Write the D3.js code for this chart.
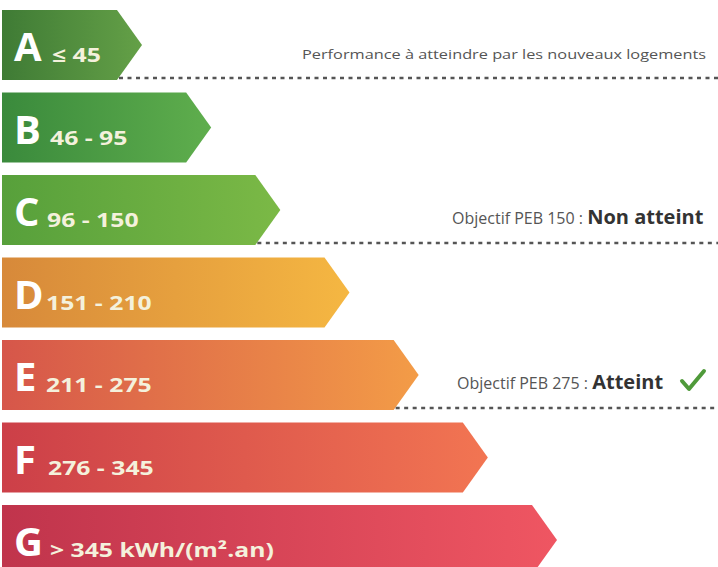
<!DOCTYPE html>
<html><head><meta charset="utf-8">
<script src="https://cdn.jsdelivr.net/npm/d3@7"></script>
<style>body{margin:0;background:#fff}svg{display:block}</style>
</head><body>
<script>
const classes = ["A","B","C","D","E","F","G"];
const ranges = ["≤ 45","46 - 95","96 - 150","151 - 210","211 - 275","276 - 345","> 345  kWh/(m².an)"];
const upperBounds = [45,95,150,210,275,345,null];
const colorsLeft  = ["#3f7b35","#3a8a3c","#57a03b","#d7893a","#d6564a","#cc3f48","#c0344c"];
const colorsRight = ["#64a047","#5fae4d","#7bb946","#f5b742","#f39c47","#f27552","#ef5662"];
const annotClass = ["A","C","E"];
const annotNormal = ["Performance à atteindre par les nouveaux logements","Objectif PEB 150 : ","Objectif PEB 275 : "];
const annotBold = ["","Non atteint","Atteint"];
const annotCheck = [false,false,true];

const W=718,H=567;
const svg=d3.select("body").append("svg").attr("width",W).attr("height",H);
const defs=svg.append("defs");
const y=d3.scaleBand().domain(classes).range([10,575]).paddingInner(12.5/82.5);
const xTip=d3.scaleLinear().domain([0,6]).range([142,557]);
const notch=25, left=2;
classes.forEach((c,i)=>{
  const g=defs.append("linearGradient").attr("id","g"+c).attr("x1","0").attr("x2","1").attr("y1","0").attr("y2","0");
  g.append("stop").attr("offset","0%").attr("stop-color",colorsLeft[i]);
  g.append("stop").attr("offset","100%").attr("stop-color",colorsRight[i]);
});
const bars=svg.selectAll("g.bar").data(classes).join("g").attr("class","bar");
bars.append("path").attr("d",(c,i)=>{
  const t=y(c),b=t+y.bandwidth(),m=t+y.bandwidth()/2,tip=xTip(i);
  return `M${left},${t}L${tip-notch},${t}L${tip},${m}L${tip-notch},${b}L${left},${b}Z`;
}).attr("fill",c=>`url(#g${c})`);
bars.append("text").attr("x",14).attr("y",c=>y(c)+51)
  .attr("font-family","'Open Sans',sans-serif").attr("font-weight","bold").attr("font-size",40)
  .attr("fill","#fff").text(c=>c);
const rx=[52,50,47,46,46,48,50];
bars.append("text").attr("transform",(c,i)=>`translate(${rx[i]},${y(c)+52}) scale(1.27,1)`)
  .attr("font-family","'Open Sans',sans-serif").attr("font-weight","bold").attr("font-size",19.5)
  .attr("fill","#f4f1dc").text((c,i)=>ranges[i]);

annotClass.forEach((c,k)=>{
  const i=classes.indexOf(c);
  const ly=y(c)+y.bandwidth()-2;
  svg.append("line").attr("x1",xTip(i)-notch+2).attr("x2",W).attr("y1",ly).attr("y2",ly)
    .attr("stroke","#555").attr("stroke-width",2.5).attr("stroke-dasharray","4,4.5");
  const t=svg.append("text").attr("y",ly-19).attr("font-family","'Open Sans',sans-serif").attr("fill","#555");
  if(k===0){
    t.attr("x",302).attr("font-size",13.5).attr("textLength",404).attr("lengthAdjust","spacingAndGlyphs").text(annotNormal[k]);
  } else {
    t.attr("x",k===1?452:457).attr("font-size",16);
    t.append("tspan").text(annotNormal[k]);
    t.append("tspan").attr("font-weight","bold").attr("font-size",20).attr("fill","#333").text(annotBold[k]);
  }
  if(annotCheck[k]){
    const cx=682, cy=ly-30;
    svg.append("path").attr("d",`M${cx},${cy+3}L${cx+7},${cy+11}L${cx+22},${cy-7}`)
      .attr("fill","none").attr("stroke","#4f9a3a").attr("stroke-width",4).attr("stroke-linecap","round").attr("stroke-linejoin","round");
  }
});
</script>
</body></html>
